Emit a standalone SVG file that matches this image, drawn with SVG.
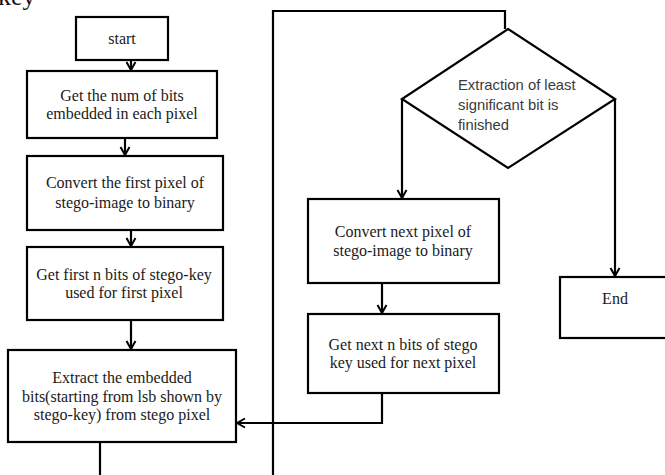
<svg xmlns="http://www.w3.org/2000/svg" width="665" height="475" viewBox="0 0 665 475">
<style>
.box{fill:#fff;stroke:#000;stroke-width:2.2}
.t{font-family:'Liberation Serif',serif;font-size:16px;fill:#1a1a1a;text-anchor:middle}
.s{font-family:'Liberation Sans',sans-serif;font-size:14.8px;fill:#3a3a3a}
.c{fill:none;stroke:#000;stroke-width:2.2}
</style>
<defs>
<marker id="ah" viewBox="0 0 12 12" refX="10" refY="6" markerWidth="12" markerHeight="12" markerUnits="userSpaceOnUse" orient="auto">
<polyline points="2,1.5 10,6 2,10.5" fill="none" stroke="#000" stroke-width="2"/>
</marker>
</defs>
<rect width="665" height="475" fill="#fff"/>
<text x="-2" y="5" font-family="'Liberation Serif',serif" font-size="26" fill="#111">key</text>
<g id="connectors">
<line class="c" x1="131" y1="60" x2="131" y2="70" marker-end="url(#ah)"/>
<line class="c" x1="125" y1="138" x2="125" y2="155" marker-end="url(#ah)"/>
<line class="c" x1="131" y1="230" x2="131" y2="246" marker-end="url(#ah)"/>
<line class="c" x1="131" y1="320" x2="131" y2="349" marker-end="url(#ah)"/>
<line class="c" x1="100" y1="442" x2="100" y2="476"/>
<polyline class="c" points="505,29 505,11 273,11 273,476"/>
<polyline class="c" points="382,393 382,423 237,423" marker-end="url(#ah)"/>
<line class="c" x1="382" y1="283" x2="382" y2="313" marker-end="url(#ah)"/>
<line class="c" x1="402" y1="99" x2="402" y2="198" marker-end="url(#ah)"/>
<line class="c" x1="615" y1="99" x2="615" y2="276" marker-end="url(#ah)"/>
</g>
<g id="start"><rect class="box" x="76" y="17" width="92" height="43"/><text class="t" x="122" y="44">start</text></g>
<g id="n1"><rect class="box" x="27" y="71" width="190" height="67"/><text class="t" x="122" y="101">Get the num of bits</text><text class="t" x="122" y="119">embedded in each pixel</text></g>
<g id="n2"><rect class="box" x="27" y="156" width="196" height="74"/><text class="t" x="125" y="188">Convert the first pixel of</text><text class="t" x="125" y="208">stego-image to binary</text></g>
<g id="n3"><rect class="box" x="27" y="247" width="196" height="73"/><text class="t" x="124" y="280">Get first n bits of stego-key</text><text class="t" x="124" y="298">used for first pixel</text></g>
<g id="n4"><rect class="box" x="8" y="350" width="228" height="92"/><text class="t" x="122" y="383">Extract the embedded</text><text class="t" x="122" y="402">bits(starting from lsb shown by</text><text class="t" x="122" y="420">stego-key) from stego pixel</text></g>
<g id="decision"><polygon class="box" points="508,29 615,99 508,168 402,99"/><text class="s" x="458" y="90">Extraction of least</text><text class="s" x="458" y="110">significant bit is</text><text class="s" x="458" y="130">finished</text></g>
<g id="n5"><rect class="box" x="308" y="199" width="191" height="84"/><text class="t" x="403" y="237">Convert next pixel of</text><text class="t" x="403" y="256">stego-image to binary</text></g>
<g id="n6"><rect class="box" x="308" y="314" width="191" height="79"/><text class="t" x="403" y="350">Get next n bits of stego</text><text class="t" x="403" y="368">key used for next pixel</text></g>
<g id="end"><rect class="box" x="560" y="277" width="110" height="61"/><text class="t" x="615" y="304">End</text></g>
</svg>
